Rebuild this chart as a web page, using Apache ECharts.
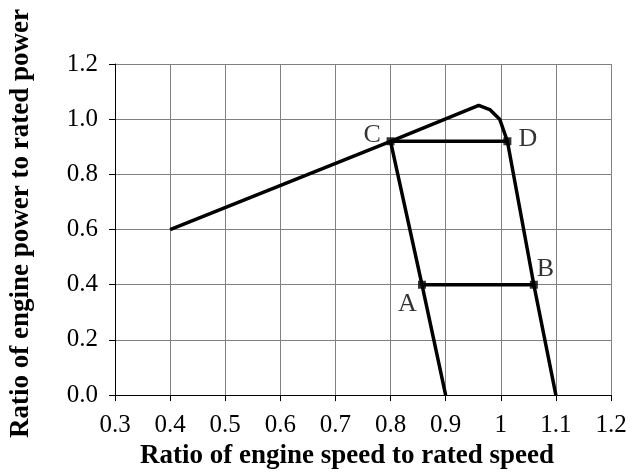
<!DOCTYPE html>
<html><head><meta charset="utf-8">
<script src="https://cdn.jsdelivr.net/npm/echarts@6/dist/echarts.min.js"></script>
<style>html,body{margin:0;padding:0;background:#fff}#c{width:632px;height:475px}</style>
</head><body><div id="c"></div>
<script>
const xTicks = [0.3,0.4,0.5,0.6,0.7,0.8,0.9,1,1.1,1.2];
const yTicks = ['0.0','0.2','0.4','0.6','0.8','1.0','1.2'];
const outerCurve = [[0.4,0.6],[0.8,0.92],[0.96,1.05],[0.98,1.035],[0.998,1.0],[1.012,0.92],[1.06,0.4],[1.1,0.0]];
const leftCurve = [[0.8,0.92],[0.857,0.4],[0.9,0.0]];
const lineCD = [[0.8,0.92],[1.012,0.92]];
const lineAB = [[0.857,0.4],[1.06,0.4]];
const points = [
  {name:'C', value:[0.8,0.92], pos:[-23,-15]},
  {name:'D', value:[1.012,0.92], pos:[15,-11]},
  {name:'A', value:[0.857,0.4], pos:[-20,10]},
  {name:'B', value:[1.06,0.4], pos:[7,-25]}
];
const chart = echarts.init(document.getElementById('c'));
const font = 'Liberation Serif';
const lineStyle = {color:'#000', width:3.5};
chart.setOption({
  animation:false,
  grid:{left:112, right:21, top:64, bottom:77},
  xAxis:{type:'value', min:0.3, max:1.2, interval:0.1,
    name:'Ratio of engine speed to rated speed', nameLocation:'middle', nameGap:46,
    nameTextStyle:{fontFamily:font, fontWeight:'bold', fontSize:27, color:'#000', padding:[0,32,0,0]},
    axisLine:{lineStyle:{color:'#000', width:1}},
    axisTick:{length:6, lineStyle:{color:'#000'}},
    axisLabel:{fontFamily:font, fontSize:25, color:'#000', margin:18,
      formatter:v=>{const t=xTicks.find(x=>Math.abs(x-v)<1e-6); return t===undefined?'':String(t);}},
    splitLine:{show:true, lineStyle:{color:'#808080', width:1}}
  },
  yAxis:{type:'value', min:0, max:1.2, interval:0.2,
    name:'Ratio of engine power to rated power', nameLocation:'middle', nameGap:80,
    nameTextStyle:{fontFamily:font, fontWeight:'bold', fontSize:27, color:'#000', padding:[0,0,0,12]},
    axisLine:{show:true, lineStyle:{color:'#000', width:1}},
    axisTick:{show:true, length:6, lineStyle:{color:'#000'}},
    axisLabel:{fontFamily:font, fontSize:25, color:'#000', margin:17,
      formatter:v=>yTicks[Math.round(v/0.2)]},
    splitLine:{show:true, lineStyle:{color:'#808080', width:1}}
  },
  series:[
    {type:'line', data:outerCurve, showSymbol:false, lineStyle, z:3},
    {type:'line', data:leftCurve, showSymbol:false, lineStyle, z:3},
    {type:'line', data:lineCD, showSymbol:false, lineStyle, z:3},
    {type:'line', data:lineAB, showSymbol:false, lineStyle, z:3},
    {type:'scatter', symbol:'rect', symbolSize:8, itemStyle:{color:'#000'}, z:4,
      data:points.map(p=>({value:p.value, name:p.name,
        label:{show:true, formatter:p.name, position:p.pos, fontFamily:font, fontSize:26, color:'#000'}}))}
  ]
});
</script></body></html>
